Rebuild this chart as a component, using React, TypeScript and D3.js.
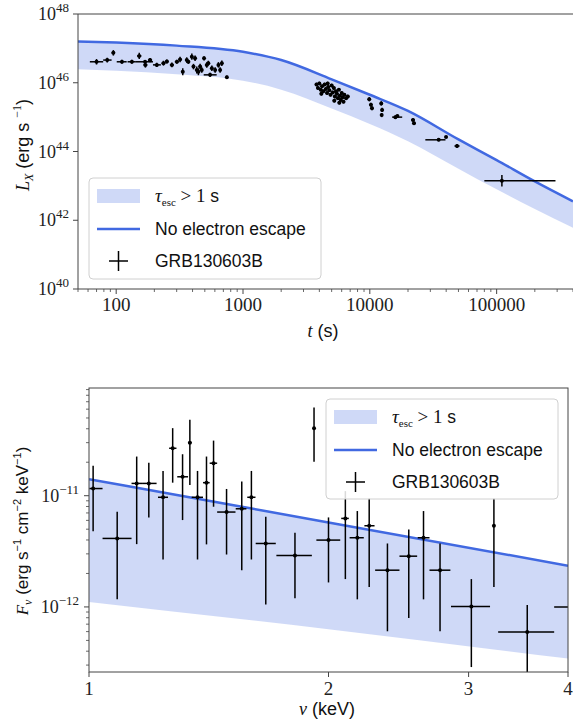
import React from 'react';
import * as d3 from 'd3';

const W = 573;
const H = 727;
const BLUE = '#4169e1';
const SERIF = '"Liberation Serif", "DejaVu Serif", serif';
const SANS = '"Liberation Sans", "DejaVu Sans", sans-serif';
const AXIS = '#444';

// light curve model (t in s, log10 L in erg/s)
const modelT = [50, 100, 300, 1000, 2000, 5000, 1e4, 2e4, 5e4, 1e5, 2e5, 4e5];
const modelLogL = [47.2, 47.17, 47.08, 46.9, 46.66, 46.1, 45.65, 45.18, 44.35, 43.75, 43.13, 42.55];
const modelLogLLow = [46.39, 46.35, 46.25, 46.06, 45.8, 45.25, 44.8, 44.3, 43.5, 42.9, 42.33, 41.78];

// GRB130603B light curve: [t, tLo, tHi, log10 L, error in dex]
const lcEarly = [
  [70, 62, 79, 46.61, 0.08], [85, 79, 92, 46.66, 0.07], [95, 92, 98, 46.87, 0.08],
  [111, 101, 121, 46.61, 0.06], [133, 123, 143, 46.61, 0.06], [152, 146, 158, 46.78, 0.09],
  [169, 143, 195, 46.61, 0.05], [170, 164, 176, 46.52, 0.08], [185, 178, 192, 46.66, 0.06],
  [209, 195, 225, 46.52, 0.06], [236, 228, 244, 46.57, 0.07], [251, 243, 259, 46.62, 0.06],
  [275, 265, 285, 46.52, 0.07], [301, 290, 312, 46.61, 0.06], [319, 310, 328, 46.68, 0.08],
  [335, 328, 342, 46.32, 0.1], [360, 352, 368, 46.66, 0.08], [371, 362, 380, 46.61, 0.06],
  [395, 386, 404, 46.76, 0.09], [407, 398, 416, 46.47, 0.08], [419, 410, 428, 46.71, 0.08],
  [432, 424, 440, 46.37, 0.1], [445, 437, 453, 46.32, 0.1], [459, 450, 468, 46.47, 0.08],
  [473, 465, 481, 46.37, 0.08], [493, 485, 501, 46.71, 0.06], [518, 508, 528, 46.52, 0.08],
  [533, 524, 542, 46.57, 0.07], [550, 490, 620, 46.23, 0.06], [568, 559, 577, 46.42, 0.08],
  [603, 593, 613, 46.37, 0.08], [640, 630, 650, 46.52, 0.08], [660, 650, 670, 46.37, 0.08],
  [681, 671, 691, 46.57, 0.08], [746, 736, 756, 46.16, 0.05],
];

// dense cluster around 4-7 ks: [t, log10 L]
const lcCluster = [
  [3800, 45.95], [3900, 45.85], [4000, 45.98], [4100, 45.8], [4150, 45.68], [4200, 45.9],
  [4300, 45.75], [4400, 45.95], [4500, 45.82], [4600, 45.7], [4650, 45.98], [4700, 45.88],
  [4800, 45.78], [4900, 45.65], [5000, 45.92], [5100, 45.72], [5200, 45.85], [5250, 45.48],
  [5300, 45.6], [5400, 45.75], [5500, 45.68], [5600, 45.55], [5700, 45.8], [5750, 45.42],
  [5800, 45.62], [5900, 45.5], [6000, 45.7], [6100, 45.58], [6200, 45.45], [6300, 45.65],
  [6500, 45.55], [6700, 45.6],
];

const lcLate = [
  [9900, 9600, 10200, 45.52, 0.06], [10200, 9900, 10500, 45.36, 0.06], [10400, 10100, 10700, 45.26, 0.06],
  [12300, 12000, 12600, 45.4, 0.06], [12500, 12200, 12800, 45.21, 0.06], [12400, 12100, 12700, 45.06, 0.06],
  [15900, 15000, 18000, 45.0, 0.05], [16500, 16000, 17000, 45.03, 0.04],
  [21900, 21200, 22600, 44.92, 0.05], [22300, 21600, 23000, 44.82, 0.05],
  [34900, 27400, 39500, 44.34, 0.04], [39900, 39000, 40800, 44.42, 0.03],
  [48700, 46500, 51000, 44.16, 0.06], [110000, 80000, 291000, 43.15, 0.17],
];

// spectrum model (nu in keV, F_nu in erg/s/cm2/keV)
const specNu = [1, 2, 4];
const specLine = [1.41e-11, 5.75e-12, 2.35e-12];
const specLow = [1.11e-12, 6.3e-13, 3.43e-13];

// spectrum points: [nu, nuLo, nuHi, F, FLo, FHi]
const specPoints = [
  [1.012, 1.001, 1.04, 1.16e-11, 4.8e-12, 1.86e-11],
  [1.085, 1.04, 1.131, 4.13e-12, 1.17e-12, 7.18e-12],
  [1.148, 1.131, 1.169, 1.29e-11, 3.67e-12, 2.25e-11],
  [1.189, 1.169, 1.216, 1.29e-11, 6.38e-12, 1.98e-11],
  [1.239, 1.221, 1.257, 9.68e-12, 2.67e-12, 1.67e-11],
  [1.274, 1.261, 1.288, 2.67e-11, 1.31e-11, 4.05e-11],
  [1.311, 1.291, 1.332, 1.48e-11, 6.04e-12, 2.36e-11],
  [1.339, 1.332, 1.346, 3.0e-11, 1.25e-11, 4.81e-11],
  [1.369, 1.346, 1.391, 9.68e-12, 2.67e-12, 1.67e-11],
  [1.405, 1.391, 1.418, 1.31e-11, 3.65e-12, 2.25e-11],
  [1.434, 1.418, 1.449, 1.96e-11, 7.96e-12, 3.13e-11],
  [1.489, 1.449, 1.528, 7.13e-12, 2.96e-12, 1.15e-11],
  [1.556, 1.529, 1.577, 7.63e-12, 2.14e-12, 1.34e-11],
  [1.6, 1.581, 1.619, 9.68e-12, 2.67e-12, 1.67e-11],
  [1.668, 1.62, 1.717, 3.72e-12, 1.05e-12, 6.47e-12],
  [1.815, 1.72, 1.906, 2.9e-12, 1.2e-12, 4.65e-12],
  [1.918, 1.912, 1.924, 4.05e-11, 2.02e-11, 6.21e-11],
  [2.0, 1.931, 2.069, 3.99e-12, 1.66e-12, 6.38e-12],
  [2.1, 2.075, 2.121, 6.25e-12, 1.78e-12, 1.1e-11],
  [2.174, 2.126, 2.215, 4.19e-12, 1.17e-12, 7.28e-12],
  [2.25, 2.219, 2.285, 5.37e-12, 1.51e-12, 9.48e-12],
  [2.372, 2.289, 2.456, 2.14e-12, 6.04e-13, 3.72e-12],
  [2.523, 2.456, 2.585, 2.86e-12, 7.96e-13, 4.98e-12],
  [2.633, 2.589, 2.679, 4.19e-12, 1.17e-12, 7.28e-12],
  [2.762, 2.679, 2.846, 2.14e-12, 6.04e-13, 3.72e-12],
  [3.024, 2.851, 3.192, 1.01e-12, 2.88e-13, 1.78e-12],
  [3.228, 3.22, 3.236, 5.37e-12, 1.51e-12, 9.48e-12],
  [3.555, 3.268, 3.843, 5.96e-13, 1.8e-13, 1.04e-12],
  [4.15, 3.843, 4.45, 1.0e-12, 2.8e-13, 1.8e-12],
];

const topTicksX = [100, 1000, 10000, 100000];
const topTicksY = [40, 42, 44, 46, 48];
const botTicksX = [1, 2, 3, 4];
const botTicksY = [-12, -11];

const Pow = ({ x, y, exp }: { x: number; y: number; exp: string }) => (
  <text x={x} y={y} textAnchor="end" fontFamily={SERIF} fontSize={18} fill="#222">
    10<tspan dy={-8} fontSize={13}>{exp}</tspan>
  </text>
);

const Legend = ({ x, y, w, h }: { x: number; y: number; w: number; h: number }) => {
  const px = x + 8;
  const tx = x + 66;
  return (
    <g>
      <rect x={x} y={y} width={w} height={h} rx={4} fill="white" fillOpacity={0.85} stroke="#d0d0d0" />
      <rect x={px} y={y + 11} width={43} height={14} fill={BLUE} fillOpacity={0.25} />
      <text x={tx} y={y + 24} fontSize={17.5} fill="#111">
        <tspan fontFamily={SERIF} fontStyle="italic" fontSize={19}>τ</tspan>
        <tspan fontFamily={SERIF} fontSize={11} dy={4}>esc</tspan>
        <tspan fontFamily={SERIF} fontSize={19} dy={-4}> &gt; 1 </tspan>
        <tspan fontFamily={SANS}>s</tspan>
      </text>
      <line x1={px} x2={px + 43} y1={y + 51} y2={y + 51} stroke={BLUE} strokeWidth={2.5} />
      <text x={tx} y={y + 57} fontFamily={SANS} fontSize={17.5} fill="#111">No electron escape</text>
      <line x1={px + 12} x2={px + 31} y1={y + 83} y2={y + 83} stroke="black" strokeWidth={1.5} />
      <line x1={px + 21.5} x2={px + 21.5} y1={y + 73} y2={y + 93} stroke="black" strokeWidth={1.5} />
      <text x={tx} y={y + 89} fontFamily={SANS} fontSize={17.5} fill="#111">GRB130603B</text>
    </g>
  );
};

export default function App() {
  // ---------- top panel ----------
  const xT = d3.scaleLog().domain([50, 4e5]).range([78, 573]);
  const yT = d3.scaleLinear().domain([40, 48]).range([289, 14]);

  const bandT = d3.area<number>()
    .x((_, i) => xT(modelT[i]))
    .y0((_, i) => yT(modelLogLLow[i]))
    .y1((_, i) => yT(modelLogL[i]))
    .curve(d3.curveMonotoneX);
  const lineT = d3.line<number>()
    .x((_, i) => xT(modelT[i]))
    .y((_, i) => yT(modelLogL[i]))
    .curve(d3.curveMonotoneX);

  const lcAll = [
    ...lcEarly,
    ...lcCluster.map(([t, l]) => [t, t * 0.97, t * 1.03, l, 0.05]),
    ...lcLate,
  ];

  const minorTopX: number[] = [];
  for (let e = 1; e <= 5; e++) {
    for (let m = 2; m <= 9; m++) {
      const v = m * Math.pow(10, e);
      if (v >= 50 && v <= 4e5) minorTopX.push(v);
    }
  }

  // ---------- bottom panel ----------
  const xB = d3.scaleLog().domain([1, 4]).range([89, 568]);
  const yB = d3.scaleLog().domain([2.6e-13, 9.3e-11]).range([672, 388]);

  const bandB = d3.area<number>()
    .x((_, i) => xB(specNu[i]))
    .y0((_, i) => yB(specLow[i]))
    .y1((_, i) => yB(specLine[i]))
    .curve(d3.curveMonotoneX);
  const lineB = d3.line<number>()
    .x((_, i) => xB(specNu[i]))
    .y((_, i) => yB(specLine[i]))
    .curve(d3.curveMonotoneX);

  const minorBotY: number[] = [];
  for (let e = -13; e <= -11; e++) {
    for (let m = 2; m <= 9; m++) {
      const v = m * Math.pow(10, e);
      if (v >= 2.6e-13 && v <= 9.3e-11) minorBotY.push(v);
    }
  }

  const idx = (a: number[]) => a.map((_, i) => i);

  return (
    <svg width={W} height={H} style={{ position: 'absolute', left: 0, top: 0, background: 'white' }}>
      <defs>
        <clipPath id="clipTop"><rect x={78} y={14} width={495} height={275} /></clipPath>
        <clipPath id="clipBot"><rect x={89} y={388} width={479} height={284} /></clipPath>
      </defs>

      {/* ===== top panel ===== */}
      <g clipPath="url(#clipTop)">
        <path d={bandT(idx(modelT)) || ''} fill={BLUE} fillOpacity={0.25} />
        <path d={lineT(idx(modelT)) || ''} fill="none" stroke={BLUE} strokeWidth={2.5} />
        {lcAll.map(([t, tLo, tHi, l, e], i) => (
          <g key={i} stroke="black" strokeWidth={1.5}>
            <line x1={xT(tLo)} x2={xT(tHi)} y1={yT(l)} y2={yT(l)} />
            <line x1={xT(t)} x2={xT(t)} y1={yT(l - e)} y2={yT(l + e)} />
            <circle cx={xT(t)} cy={yT(l)} r={2} fill="black" stroke="none" />
          </g>
        ))}
      </g>
      <line x1={78} x2={78} y1={14} y2={289} stroke={AXIS} />
      <line x1={78} x2={573} y1={289} y2={289} stroke={AXIS} />
      <line x1={78} x2={573} y1={14} y2={14} stroke={AXIS} />
      {topTicksY.map(v => (
        <g key={v}>
          <line x1={73} x2={78} y1={yT(v)} y2={yT(v)} stroke={AXIS} />
          <Pow x={69} y={yT(v) + 6} exp={String(v)} />
        </g>
      ))}
      {minorTopX.map(v => (
        <line key={v} x1={xT(v)} x2={xT(v)} y1={289} y2={292} stroke={AXIS} strokeWidth={0.8} />
      ))}
      {topTicksX.map(v => (
        <g key={v}>
          <line x1={xT(v)} x2={xT(v)} y1={289} y2={294} stroke={AXIS} />
          <text x={xT(v)} y={311} textAnchor="middle" fontFamily={SERIF} fontSize={19} fill="#222">{v}</text>
        </g>
      ))}
      <text x={323} y={337} textAnchor="middle" fontSize={18} fill="#111">
        <tspan fontFamily={SERIF} fontStyle="italic">t</tspan>
        <tspan fontFamily={SANS}> (s)</tspan>
      </text>
      <text transform="translate(29,145) rotate(-90)" textAnchor="middle" fontSize={18} fill="#111">
        <tspan fontFamily={SERIF} fontStyle="italic">L</tspan>
        <tspan fontFamily={SERIF} fontStyle="italic" fontSize={12} dy={4}>X</tspan>
        <tspan fontFamily={SANS} dy={-4}> (erg s </tspan>
        <tspan fontFamily={SERIF} fontSize={12} dy={-8}>−1</tspan>
        <tspan fontFamily={SANS} dy={8}>)</tspan>
      </text>
      <Legend x={89} y={178} w={232} h={101} />

      {/* ===== bottom panel ===== */}
      <g clipPath="url(#clipBot)">
        <path d={bandB(idx(specNu)) || ''} fill={BLUE} fillOpacity={0.25} />
        <path d={lineB(idx(specNu)) || ''} fill="none" stroke={BLUE} strokeWidth={2.5} />
        {specPoints.map(([nu, nLo, nHi, f, fLo, fHi], i) => (
          <g key={i} stroke="black" strokeWidth={1.5}>
            <line x1={xB(nLo)} x2={xB(nHi)} y1={yB(f)} y2={yB(f)} />
            <line x1={xB(nu)} x2={xB(nu)} y1={yB(fLo)} y2={yB(fHi)} />
            <circle cx={xB(nu)} cy={yB(f)} r={2} fill="black" stroke="none" />
          </g>
        ))}
      </g>
      <rect x={89} y={388} width={479} height={284} fill="none" stroke={AXIS} />
      {minorBotY.map(v => (
        <line key={v} x1={86} x2={89} y1={yB(v)} y2={yB(v)} stroke={AXIS} strokeWidth={0.8} />
      ))}
      {botTicksY.map(e => (
        <g key={e}>
          <line x1={84} x2={89} y1={yB(Math.pow(10, e))} y2={yB(Math.pow(10, e))} stroke={AXIS} />
          <Pow x={79} y={yB(Math.pow(10, e)) + 6} exp={`−${-e}`} />
        </g>
      ))}
      {botTicksX.map(v => (
        <g key={v}>
          <line x1={xB(v)} x2={xB(v)} y1={672} y2={677} stroke={AXIS} />
          <text x={xB(v)} y={695} textAnchor="middle" fontFamily={SERIF} fontSize={19} fill="#222">{v}</text>
        </g>
      ))}
      <text x={327} y={715} textAnchor="middle" fontSize={18} fill="#111">
        <tspan fontFamily={SERIF} fontStyle="italic">ν</tspan>
        <tspan fontFamily={SANS}> (keV)</tspan>
      </text>
      <text transform="translate(28,531) rotate(-90)" textAnchor="middle" fontSize={17} fill="#111">
        <tspan fontFamily={SERIF} fontStyle="italic">F</tspan>
        <tspan fontFamily={SERIF} fontStyle="italic" fontSize={12} dy={4}>ν</tspan>
        <tspan fontFamily={SANS} dy={-4}> (erg s</tspan>
        <tspan fontFamily={SANS} fontSize={11} dy={-7}>−1</tspan>
        <tspan fontFamily={SANS} dy={7}> cm</tspan>
        <tspan fontFamily={SANS} fontSize={11} dy={-7}>−2</tspan>
        <tspan fontFamily={SANS} dy={7}> keV</tspan>
        <tspan fontFamily={SANS} fontSize={11} dy={-7}>−1</tspan>
        <tspan fontFamily={SANS} dy={7}>)</tspan>
      </text>
      <Legend x={326} y={399} w={232} h={100} />
    </svg>
  );
}
